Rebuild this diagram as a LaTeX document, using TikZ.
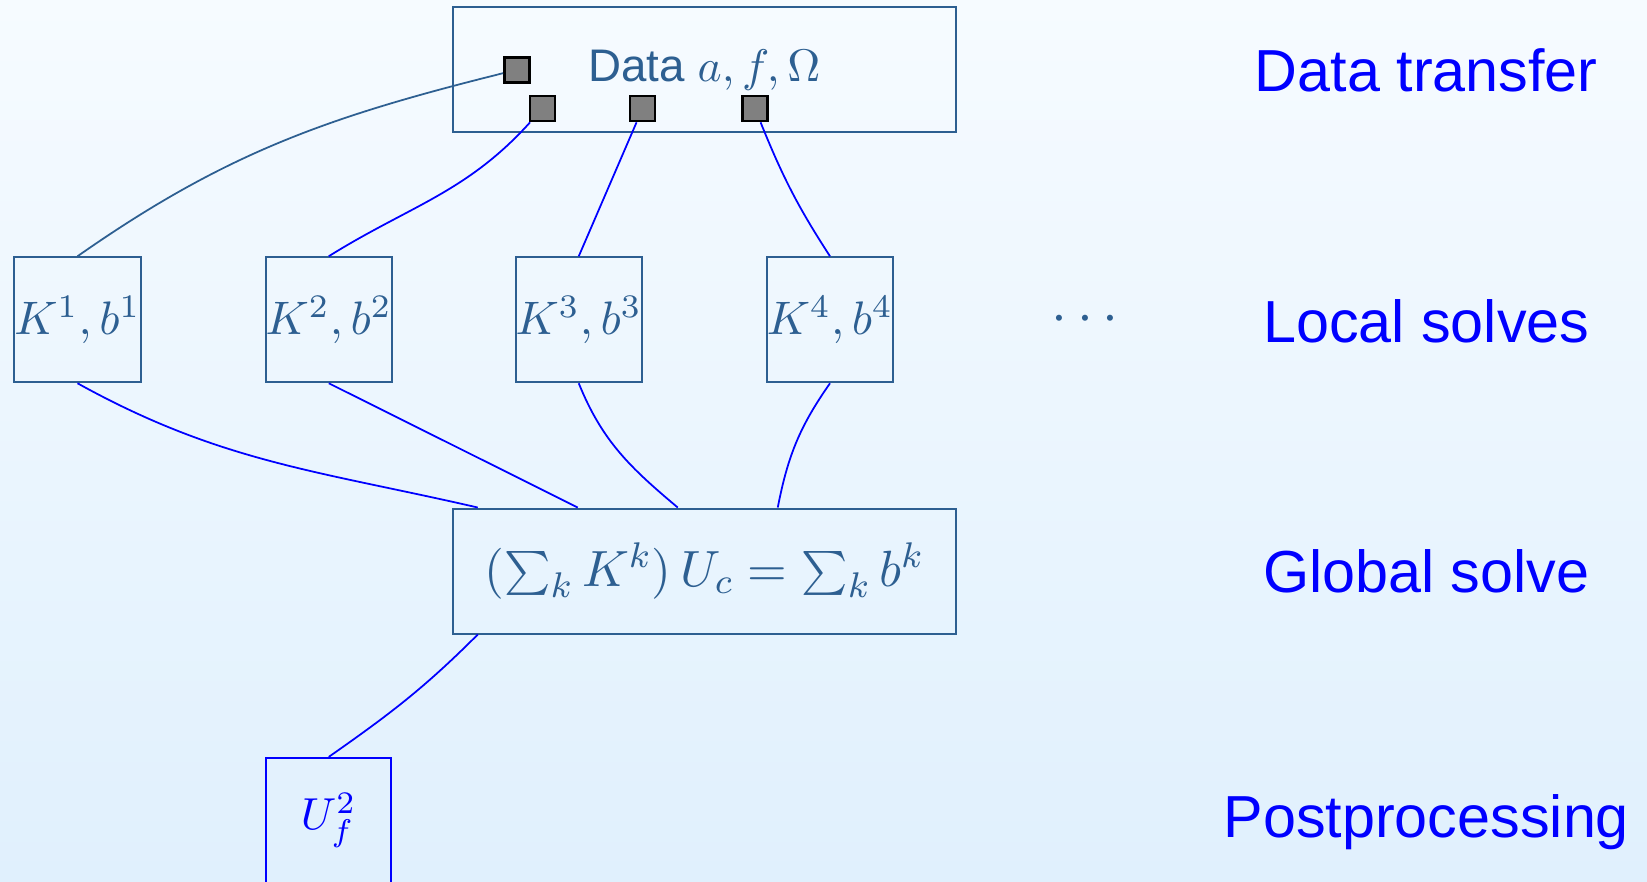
\documentclass[tikz,border=0pt]{standalone}
\usepackage{fix-cm}
\usepackage{fontspec}
\setsansfont{Liberation Sans}
\definecolor{boxblue}{RGB}{45,95,145}
\definecolor{bgtop}{RGB}{246,251,255}
\definecolor{bgbottom}{RGB}{224,240,253}

\begin{document}
\begin{tikzpicture}[
  box/.style={draw=boxblue, text=boxblue, line width=0.45pt, minimum width=10mm, minimum height=10mm, inner sep=0pt, align=center},
  wide/.style={box, minimum width=40.2mm},
  port/.style={draw=black, fill=gray, line width=0.6pt, minimum size=2mm, inner sep=0pt},
  stage/.style={text=blue, font=\fontsize{13.5}{16}\selectfont\sffamily, anchor=base},
  line/.style={blue, line width=0.4pt}
]
\shade[top color=bgtop, bottom color=bgbottom] (0,0) rectangle (131.76mm,70.48mm);
\useasboundingbox (0,0) rectangle (131.76mm,70.48mm);

\node[wide, font=\fontsize{10.4}{12}\selectfont] (data) at (56.35mm,64.9mm) {\sffamily Data $a, f, \Omega$};
\node[port] (p1) at (41.35mm,64.9mm) {};
\node[port] (p2) at (43.4mm,61.8mm) {};
\node[port] (p3) at (51.4mm,61.8mm) {};
\node[port] (p4) at (60.4mm,61.8mm) {};

\node[box, font=\fontsize{10.7}{13}\selectfont] (k1) at (6.2mm,44.9mm) {$K^1, b^1$};
\node[box, font=\fontsize{10.7}{13}\selectfont] (k2) at (26.3mm,44.9mm) {$K^2, b^2$};
\node[box, font=\fontsize{10.7}{13}\selectfont] (k3) at (46.3mm,44.9mm) {$K^3, b^3$};
\node[box, font=\fontsize{10.7}{13}\selectfont] (k4) at (66.4mm,44.9mm) {$K^4, b^4$};
\node[text=boxblue, font=\fontsize{13}{15}\selectfont] (dots) at (86.8mm,44.9mm) {$\cdots$};

\node[wide, font=\fontsize{11.6}{14}\selectfont] (global) at (56.35mm,24.8mm) {$(\sum_k K^k)\, U_c = \sum_k b^k$};
\coordinate (g0) at ([xshift=2.05mm]global.south west);
\coordinate (g1) at ([xshift=2.05mm]global.north west);
\coordinate (g2) at ([xshift=10.05mm]global.north west);
\coordinate (g3) at ([xshift=18.05mm]global.north west);
\coordinate (g4) at ([xshift=26.05mm]global.north west);

\node[box, draw=blue, text=blue, font=\fontsize{10.2}{12}\selectfont] (u) at (26.3mm,4.85mm) {$U_f^2$};

\node[stage] (transfer) at (114.1mm,63.15mm) {Data transfer};
\node[stage] (local) at (114.1mm,43.1mm) {Local solves};
\node[stage] (solve) at (114.1mm,23.1mm) {Global solve};
\node[stage] (post) at (114.1mm,3.5mm) {Postprocessing};

\draw[line, boxblue] (p1) to[out=194, in=35] (k1.north);
\draw[line] (p2) to[out=228, in=32] (k2.north);
\draw[line] (p3) -- (k3.north);
\draw[line] (p4) to[out=-68, in=123] (k4.north);

\draw[line] (k1.south) to[out=-29, in=167] (g1);
\draw[line] (k2.south) -- (g2);
\draw[line] (k3.south) to[out=-68, in=140] (g3);
\draw[line] (k4.south) to[out=235, in=79] (g4);
\draw[line] (g0) to[out=225, in=35] (u.north);
\end{tikzpicture}
\end{document}
